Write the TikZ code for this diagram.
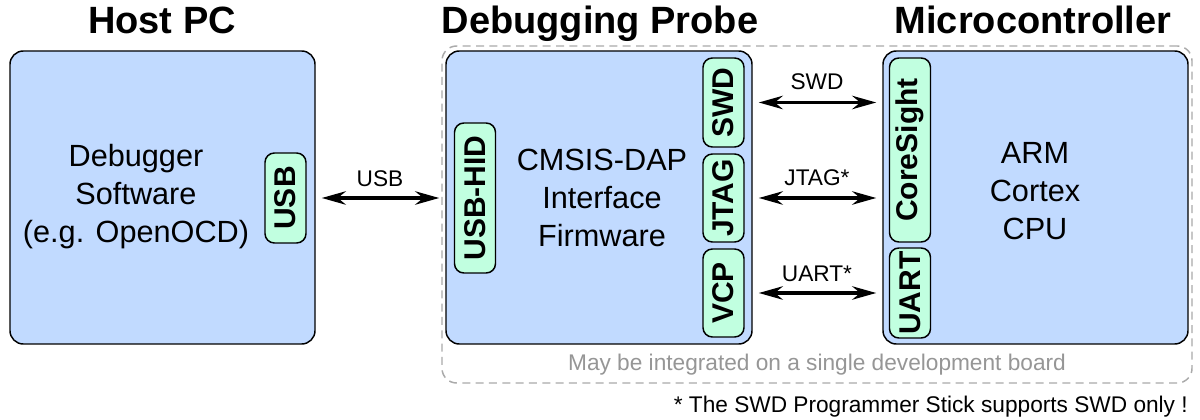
\documentclass[tikz,border=0pt]{standalone}
\usepackage{fontspec}
\setmainfont{Liberation Sans}
\usetikzlibrary{arrows.meta}
\definecolor{boxblue}{RGB}{193,218,255}
\definecolor{boxgreen}{RGB}{193,255,224}
\definecolor{dashgray}{RGB}{170,170,170}
\definecolor{txtgray}{RGB}{150,150,150}
\begin{document}
\begin{tikzpicture}[x=0.75pt,y=-0.75pt,
  bigbox/.style={draw, line width=1.1pt, fill=boxblue, rounded corners=10pt, inner sep=0pt},
  portbox/.style={draw, line width=1.1pt, fill=boxgreen, rounded corners=7pt, inner sep=0pt,
     minimum height=30.75pt, rotate=90, font=\fontsize{22.5}{27}\selectfont\bfseries},
  titletext/.style={font=\fontsize{28.5}{34}\selectfont\bfseries, anchor=base, inner sep=0pt},
  bodytext/.style={font=\fontsize{23}{28.5}\selectfont, align=center, inner sep=0pt},
  labeltext/.style={font=\fontsize{17}{20}\selectfont, anchor=base, inner sep=0pt},
  biarrow/.style={line width=2.8pt, {Stealth[length=18pt,width=10pt,inset=6pt]}-{Stealth[length=18pt,width=10pt,inset=6pt]},
     shorten <=4.5pt, shorten >=4.5pt},
]
\useasboundingbox (0,0) rectangle (1200,420);
\fill[white] (0,0) rectangle (1200,420);

% dashed board outline
\node[draw=dashgray, dashed, dash pattern=on 6pt off 4pt, line width=1.1pt, rounded corners=11pt,
  minimum width=562.5pt, minimum height=252.75pt] (board) at (817,214.5) {};

% titles
\node[titletext] (t1) at (162,34) {Host PC};
\node[titletext] (t2) at (600,34) {Debugging Probe};
\node[titletext] (t3) at (1033,34) {Microcontroller};

% main boxes
\node[bigbox, minimum width=228.75pt, minimum height=219.75pt] (host) at (162.5,197.5) {};
\node[bigbox, minimum width=229.5pt, minimum height=219.75pt] (probe) at (599,197.5) {};
\node[bigbox, minimum width=228.75pt, minimum height=219.75pt] (mcu) at (1035.5,197.5) {};

% body texts
\node[bodytext] (hosttxt) at (136,197) {Debugger\\Software\\(e.g. OpenOCD)};
\node[bodytext] (probetxt) at (602,197.5) {CMSIS-DAP\\Interface\\Firmware};
\node[bodytext] (mcutxt) at (1035,191.5) {ARM\\Cortex\\CPU};

% port boxes
\node[portbox, minimum width=67.5pt] (usb) at (285.5,198) {USB};
\node[portbox, minimum width=112.5pt] (usbhid) at (475,198) {USB-HID};
\node[portbox, minimum width=66.75pt] (swd) at (723.5,102.5) {SWD};
\node[portbox, minimum width=66pt] (jtag) at (723.5,198) {JTAG};
\node[portbox, minimum width=66pt] (vcp) at (723.5,293) {VCP};
\node[portbox, minimum width=138pt] (cs) at (910,150) {CoreSight};
\node[portbox, minimum width=67.5pt] (uart) at (910,293) {UART};

% connectors
\draw[biarrow] (host.east |- usb) -- (probe.west |- usb);
\draw[biarrow] (probe.east |- swd) -- (mcu.west |- swd);
\draw[biarrow] (probe.east |- jtag) -- (mcu.west |- jtag);
\draw[biarrow] (probe.east |- vcp) -- (mcu.west |- vcp);

% connector labels
\node[labeltext] (lusb) at (380,187) {USB};
\node[labeltext] (lswd) at (817,90) {SWD};
\node[labeltext] (ljtag) at (817,186) {JTAG*};
\node[labeltext] (luart) at (817,282) {UART*};

% notes
\node[labeltext, text=txtgray] (boardnote) at (817,370) {May be integrated on a single development board};
\node[labeltext, anchor=base east] (foot) at (1188,412) {* The SWD Programmer Stick supports SWD only !};
\end{tikzpicture}
\end{document}
